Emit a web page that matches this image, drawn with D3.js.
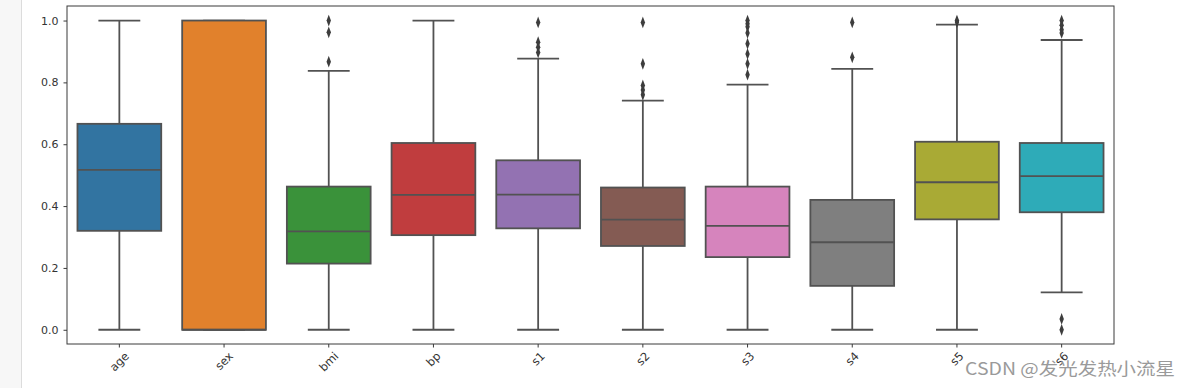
<!DOCTYPE html>
<html>
<head>
<meta charset="utf-8">
<script src="https://cdn.jsdelivr.net/npm/d3@7"></script>
<style>
  html, body { margin: 0; padding: 0; background: #fff; }
  svg { display: block; }
</style>
</head>
<body>
<div id="chart"></div>
<script>
// data
var cats = ["age", "sex", "bmi", "bp", "s1", "s2", "s3", "s4", "s5", "s6"]
var colors = ["#3274a1", "#e1812c", "#3a923a", "#c03d3e", "#9372b2", "#845b53", "#d684bd", "#7f7f7f", "#a9aa35", "#2eabb8"]
var q1 = [0.320, 0.0, 0.214, 0.306, 0.328, 0.271, 0.235, 0.142, 0.357, 0.380]
var medians = [0.517, 0.0, 0.318, 0.436, 0.437, 0.356, 0.336, 0.283, 0.477, 0.497]
var q3 = [0.666, 1.0, 0.463, 0.604, 0.548, 0.460, 0.463, 0.420, 0.608, 0.604]
var whiskLow = [0, 0, 0, 0, 0, 0, 0, 0, 0, 0.121]
var whiskHigh = [1.0, 1.0, 0.837, 1.0, 0.877, 0.741, 0.793, 0.844, 0.987, 0.937]
var outliers = [
    [],
    [],
    [1.0, 0.962, 0.867],
    [],
    [0.994, 0.930, 0.914, 0.897],
    [0.994, 0.860, 0.790, 0.775, 0.760],
    [1.0, 0.990, 0.980, 0.960, 0.925, 0.892, 0.860, 0.825],
    [0.994, 0.881],
    [1.0, 0.995],
    [1.0, 0.985, 0.970, 0.960, 0.035, 0.0]
]
var yTicks = [0.0, 0.2, 0.4, 0.6, 0.8, 1.0]

var W = 1191, H = 388
var margin = { top: 6, right: 77, bottom: 44, left: 67 }
var width = W - margin.left - margin.right
var height = H - margin.top - margin.bottom
var lineColor = "#525252"
var lw = 1.8

var svg = d3.select("#chart").append("svg")
    .attr("width", W)
    .attr("height", H)

// notebook gutter on the left
svg.append("rect").attr("x", 0).attr("y", 0).attr("width", 21).attr("height", H).attr("fill", "#f7f7f7")
svg.append("line").attr("x1", 21.5).attr("x2", 21.5).attr("y1", 0).attr("y2", H)
    .attr("stroke", "#dcdcdc").attr("stroke-width", 1)

var g = svg.append("g").attr("transform", "translate(" + margin.left + "," + margin.top + ")")

var x = d3.scaleBand().domain(cats).range([0, width]).padding(0)
var y = d3.scaleLinear().domain([-0.046, 1.047]).range([height, 0])

var boxW = x.bandwidth() * 0.8
var capW = boxW / 2

var data = cats.map(function(c, i) {
    return { name: c, color: colors[i], q1: q1[i], med: medians[i], q3: q3[i],
             lo: whiskLow[i], hi: whiskHigh[i], out: outliers[i] }
})

var boxes = g.selectAll(".box").data(data).enter().append("g")
    .attr("class", "box")
    .attr("transform", function(d) { return "translate(" + (x(d.name) + x.bandwidth() / 2) + ",0)" })

// whiskers
boxes.append("line")
    .attr("x1", 0).attr("x2", 0)
    .attr("y1", function(d) { return y(d.q3) }).attr("y2", function(d) { return y(d.hi) })
    .attr("stroke", lineColor).attr("stroke-width", lw)
boxes.append("line")
    .attr("x1", 0).attr("x2", 0)
    .attr("y1", function(d) { return y(d.q1) }).attr("y2", function(d) { return y(d.lo) })
    .attr("stroke", lineColor).attr("stroke-width", lw)
boxes.append("line")
    .attr("x1", -capW / 2).attr("x2", capW / 2)
    .attr("y1", function(d) { return y(d.hi) }).attr("y2", function(d) { return y(d.hi) })
    .attr("stroke", lineColor).attr("stroke-width", lw)
boxes.append("line")
    .attr("x1", -capW / 2).attr("x2", capW / 2)
    .attr("y1", function(d) { return y(d.lo) }).attr("y2", function(d) { return y(d.lo) })
    .attr("stroke", lineColor).attr("stroke-width", lw)

// box
boxes.append("rect")
    .attr("x", -boxW / 2)
    .attr("width", boxW)
    .attr("y", function(d) { return y(d.q3) })
    .attr("height", function(d) { return y(d.q1) - y(d.q3) })
    .attr("fill", function(d) { return d.color })
    .attr("stroke", lineColor).attr("stroke-width", lw)

// median
boxes.append("line")
    .attr("x1", -boxW / 2).attr("x2", boxW / 2)
    .attr("y1", function(d) { return y(d.med) }).attr("y2", function(d) { return y(d.med) })
    .attr("stroke", lineColor).attr("stroke-width", lw)

// outliers, thin diamonds
var diamond = d3.symbol().type(d3.symbolDiamond).size(40)
boxes.selectAll(".flier").data(function(d) { return d.out }).enter().append("path")
    .attr("class", "flier")
    .attr("d", diamond)
    .attr("transform", function(v) { return "translate(0," + y(v) + ") scale(0.65,1)" })
    .attr("fill", "#3d3d3d")

// frame
g.append("rect").attr("x", 0).attr("y", 0).attr("width", width).attr("height", height)
    .attr("fill", "none").attr("stroke", "#3a3a3a").attr("stroke-width", 1)

// y axis
var yAxis = g.append("g")
    .call(d3.axisLeft(y).tickValues(yTicks).tickFormat(d3.format(".1f")).tickSize(3.5).tickPadding(5))
yAxis.select(".domain").remove()
yAxis.selectAll("line").attr("stroke", "#3a3a3a")
yAxis.selectAll("text").attr("fill", "#333").style("font-family", "DejaVu Sans").style("font-size", "11px")

// x axis with rotated labels
var xAxis = g.append("g").attr("transform", "translate(0," + height + ")")
    .call(d3.axisBottom(x).tickSize(3.5).tickFormat(""))
xAxis.select(".domain").remove()
xAxis.selectAll("line").attr("stroke", "#3a3a3a")

var fs = 11.5
var xl = g.selectAll(".xlab").data(cats).enter().append("text")
    .attr("class", "xlab")
    .attr("text-anchor", "middle")
    .attr("dominant-baseline", "central")
    .attr("fill", "#333")
    .style("font-family", "DejaVu Sans")
    .style("font-size", fs + "px")
    .text(function(d) { return d })
xl.attr("transform", function(d) {
    var L = this.getComputedTextLength()
    var half = (L + fs * 0.75) * Math.SQRT1_2 / 2
    return "translate(" + (x(d) + x.bandwidth() / 2) + "," + (height + 7 + half) + ") rotate(-45)"
})

// watermark
svg.append("text")
    .attr("x", 965).attr("y", 375)
    .attr("textLength", 210)
    .attr("lengthAdjust", "spacingAndGlyphs")
    .attr("fill", "#9a9a9a")
    .style("font-family", "'Noto Sans CJK SC', sans-serif")
    .style("font-size", "17px")
    .text("CSDN @发光发热小流星")
</script>
</body>
</html>
